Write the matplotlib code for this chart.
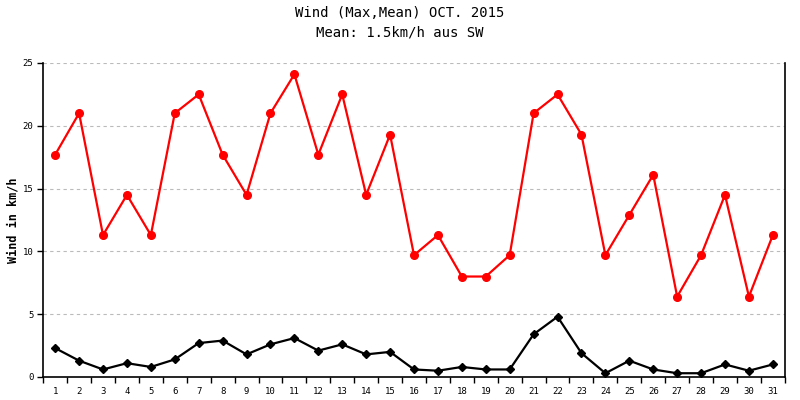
import matplotlib
matplotlib.use("Agg")
import matplotlib.pyplot as plt
import numpy as np

# Oct. 2015 daily wind, km/h
days = list(range(1, 32))
wind_max = [17.7, 21.0, 11.3, 14.5, 11.3, 21.0, 22.5, 17.7, 14.5, 21.0,
            24.1, 17.7, 22.5, 14.5, 19.3, 9.7, 11.3, 8.0, 8.0, 9.7,
            21.0, 22.5, 19.3, 9.7, 12.9, 16.1, 6.4, 9.7, 14.5, 6.4, 11.3]
wind_mean = [2.3, 1.3, 0.6, 1.1, 0.8, 1.4, 2.7, 2.9, 1.8, 2.6,
             3.1, 2.1, 2.6, 1.8, 2.0, 0.6, 0.5, 0.8, 0.6, 0.6,
             3.4, 4.8, 1.9, 0.3, 1.3, 0.6, 0.3, 0.3, 1.0, 0.5, 1.0]
yticks = [0, 5, 10, 15, 20, 25]

plt.rcParams['font.family'] = ['DejaVu Sans Mono']

fig = plt.figure(figsize=(8, 4), dpi=100)
ax = fig.add_axes([0.054, 0.0575, 0.927, 0.785])

ax.plot(days, wind_max, color='#ff0000', lw=1.6, marker='o', ms=5.5, zorder=3)
ax.plot(days, wind_mean, color='black', lw=1.6, marker='D', ms=4, zorder=3)

ax.set_xlim(0.5, 31.5)
ax.set_ylim(0, 25)

# ticks on the day boundaries, labels centred on the days
ax.set_xticks(np.arange(0.5, 32, 1))
ax.set_xticklabels([])
ax.set_xticks(days, minor=True)
ax.set_xticklabels([str(d) for d in days], minor=True, fontsize=6.5)
ax.tick_params(axis='x', which='minor', length=0, pad=7)
ax.tick_params(axis='x', which='major', length=4, width=1, direction='out')

ax.set_yticks(yticks)
ax.set_yticklabels([str(t) for t in yticks], fontsize=6.5)
ax.tick_params(axis='y', length=4, width=1, direction='out', pad=3)

for t in yticks[1:]:
    ax.axhline(t, color='#bbbbbb', lw=0.8, ls=(0, (3, 3)), zorder=1)

ax.spines['top'].set_visible(False)
for s in ['left', 'bottom', 'right']:
    ax.spines[s].set_linewidth(1.2)

ax.set_ylabel('Wind in km/h', fontsize=8.5, fontweight='bold', labelpad=2)

fig.text(0.5, 0.967, 'Wind (Max,Mean) OCT. 2015', ha='center', va='center', fontsize=10)
fig.text(0.5, 0.918, 'Mean: 1.5km/h aus SW', ha='center', va='center', fontsize=10)

fig.savefig('out.png', dpi=100)
